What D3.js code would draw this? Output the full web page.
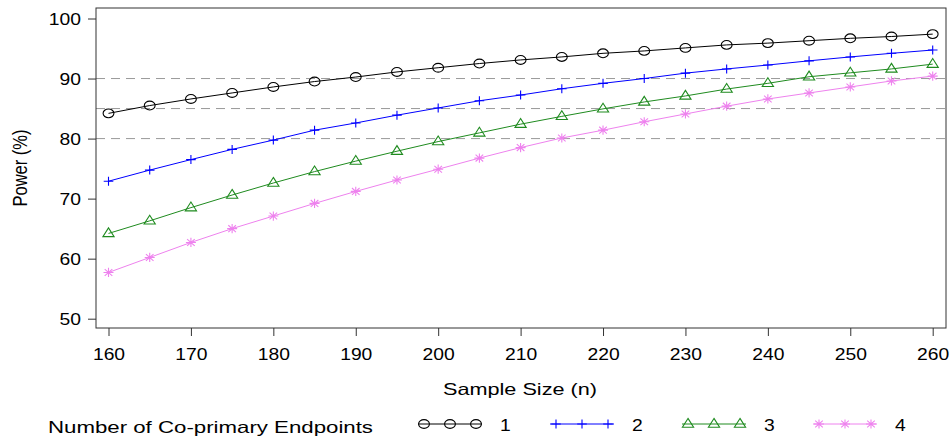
<!DOCTYPE html>
<html>
<head>
<meta charset="utf-8">
<script src="https://cdn.jsdelivr.net/npm/d3@7"></script>
<style>
  html, body { margin: 0; padding: 0; background: #fff; }
  svg { display: block; font-family: "Liberation Sans", Arial, sans-serif; }
</style>
</head>
<body>
<svg id="chart" width="950" height="436"></svg>
<script>
// sample sizes and power (%) per number of co-primary endpoints
const sampleSize = [160, 165, 170, 175, 180, 185, 190, 195, 200, 205, 210,
  215, 220, 225, 230, 235, 240, 245, 250, 255, 260];
const power1 = [84.2, 85.5, 86.6, 87.6, 88.6, 89.5, 90.25, 91.1, 91.8, 92.5, 93.1,
  93.6, 94.2, 94.6, 95.1, 95.6, 95.9, 96.3, 96.7, 97.0, 97.4];
const power2 = [72.9, 74.75, 76.5, 78.2, 79.75, 81.4, 82.6, 83.9, 85.1, 86.3, 87.25,
  88.3, 89.2, 90.0, 90.9, 91.6, 92.25, 92.95, 93.6, 94.2, 94.75];
const power3 = [64.2, 66.3, 68.5, 70.6, 72.6, 74.5, 76.25, 77.9, 79.5, 80.95, 82.4,
  83.7, 84.95, 86.1, 87.1, 88.25, 89.2, 90.3, 90.95, 91.6, 92.4];
const power4 = [57.7, 60.2, 62.7, 65.0, 67.1, 69.2, 71.2, 73.1, 74.9, 76.75, 78.5,
  80.1, 81.4, 82.8, 84.1, 85.4, 86.6, 87.6, 88.6, 89.6, 90.4];
const seriesNames = ['1', '2', '3', '4'];
const xTicks = [160, 170, 180, 190, 200, 210, 220, 230, 240, 250, 260];
const yTicks = [50, 60, 70, 80, 90, 100];
const refLines = [80, 85, 90];

const series = [
  {name: seriesNames[0], values: power1, color: '#000000', shape: 'circle'},
  {name: seriesNames[1], values: power2, color: '#0000ff', shape: 'plus'},
  {name: seriesNames[2], values: power3, color: '#1f8b1f', shape: 'triangle'},
  {name: seriesNames[3], values: power4, color: '#ee82ee', shape: 'star'}
];

const box = {left: 96, right: 946, top: 8, bottom: 328};
const stretch = 1.17; // text in the original is a bit wide

const svg = d3.select('#chart');

const x = d3.scaleLinear().domain([160, 260]).range([108.5, 932.7]);
const y = d3.scaleLinear().domain([50, 100]).range([318.7, 18.5]);

function drawSymbol(g, shape, color) {
  g.attr('fill', 'none').attr('stroke', color).attr('stroke-width', 1.1);
  if (shape === 'circle') {
    g.append('ellipse').attr('rx', 5.4).attr('ry', 4.4);
  } else if (shape === 'plus') {
    g.append('path').attr('d', 'M-4.8,0H4.8M0,-4.5V4.5');
  } else if (shape === 'triangle') {
    g.append('path').attr('d', 'M0,-5.6L5.6,3.2L-5.6,3.2Z');
  } else if (shape === 'star') {
    g.append('path').attr('d', 'M-5,0H5M0,-4.6V4.6M-3.8,-3.4L3.8,3.4M-3.8,3.4L3.8,-3.4');
  }
}

// reference lines
svg.append('g')
  .selectAll('line')
  .data(refLines)
  .join('line')
  .attr('x1', box.left)
  .attr('x2', box.right)
  .attr('y1', d => y(d))
  .attr('y2', d => y(d))
  .attr('stroke', '#999')
  .attr('stroke-width', 1)
  .attr('stroke-dasharray', '9,6');

// axes
const yAxis = svg.append('g')
  .attr('transform', `translate(${box.left},0)`)
  .call(d3.axisLeft(y).tickValues(yTicks).tickSize(8).tickFormat(d3.format('d')));
const xAxis = svg.append('g')
  .attr('transform', `translate(0,${box.bottom})`)
  .call(d3.axisBottom(x).tickValues(xTicks).tickSize(8).tickFormat(d3.format('d')));

[yAxis, xAxis].forEach(a => {
  a.select('.domain').remove();
  a.selectAll('.tick line').attr('stroke', '#333');
  a.selectAll('.tick text')
    .attr('fill', '#000')
    .style('font-size', '16.5px')
    .style('font-family', '"Liberation Sans", Arial, sans-serif');
});
yAxis.selectAll('.tick text')
  .attr('x', -15 / stretch)
  .attr('dy', '0.36em')
  .attr('transform', `scale(${stretch},1)`);
xAxis.selectAll('.tick text')
  .attr('y', 20.3)
  .attr('dy', '0.71em')
  .attr('transform', `scale(${stretch},1)`);

// plot frame
svg.append('rect')
  .attr('x', box.left)
  .attr('y', box.top)
  .attr('width', box.right - box.left)
  .attr('height', box.bottom - box.top)
  .attr('fill', 'none')
  .attr('stroke', '#333')
  .attr('stroke-width', 1);

// series lines and markers
const line = d3.line()
  .x((d, i) => x(sampleSize[i]))
  .y(d => y(d));

series.forEach(s => {
  svg.append('path')
    .datum(s.values)
    .attr('d', line)
    .attr('fill', 'none')
    .attr('stroke', s.color)
    .attr('stroke-width', 1);

  svg.append('g')
    .selectAll('g')
    .data(s.values)
    .join('g')
    .attr('transform', (d, i) => `translate(${x(sampleSize[i])},${y(d)})`)
    .each(function() {
      drawSymbol(d3.select(this), s.shape, s.color);
    });
});

// axis titles
svg.append('text')
  .attr('transform', `translate(27,168) scale(${stretch},1) rotate(-90)`)
  .attr('text-anchor', 'middle')
  .style('font-size', '16.5px')
  .text('Power (%)');

svg.append('text')
  .attr('x', 443)
  .attr('y', 395)
  .attr('textLength', 154)
  .attr('lengthAdjust', 'spacingAndGlyphs')
  .style('font-size', '16.5px')
  .text('Sample Size (n)');

// legend
const legend = svg.append('g');
legend.append('text')
  .attr('x', 48)
  .attr('y', 432.5)
  .attr('textLength', 325)
  .attr('lengthAdjust', 'spacingAndGlyphs')
  .style('font-size', '16.5px')
  .text('Number of Co-primary Endpoints');

const legendX = [418, 550, 682, 813];
series.forEach((s, i) => {
  const item = legend.append('g')
    .attr('transform', `translate(${legendX[i]},424)`);
  item.append('line')
    .attr('x1', 0).attr('x2', 64)
    .attr('stroke', s.color)
    .attr('stroke-width', 1);
  [6, 32, 58].forEach(p => {
    drawSymbol(item.append('g').attr('transform', `translate(${p},0)`), s.shape, s.color);
  });
  item.append('text')
    .attr('x', 82 / stretch)
    .attr('y', 7)
    .attr('transform', `scale(${stretch},1)`)
    .style('font-size', '16.5px')
    .text(s.name);
});
</script>
</body>
</html>
